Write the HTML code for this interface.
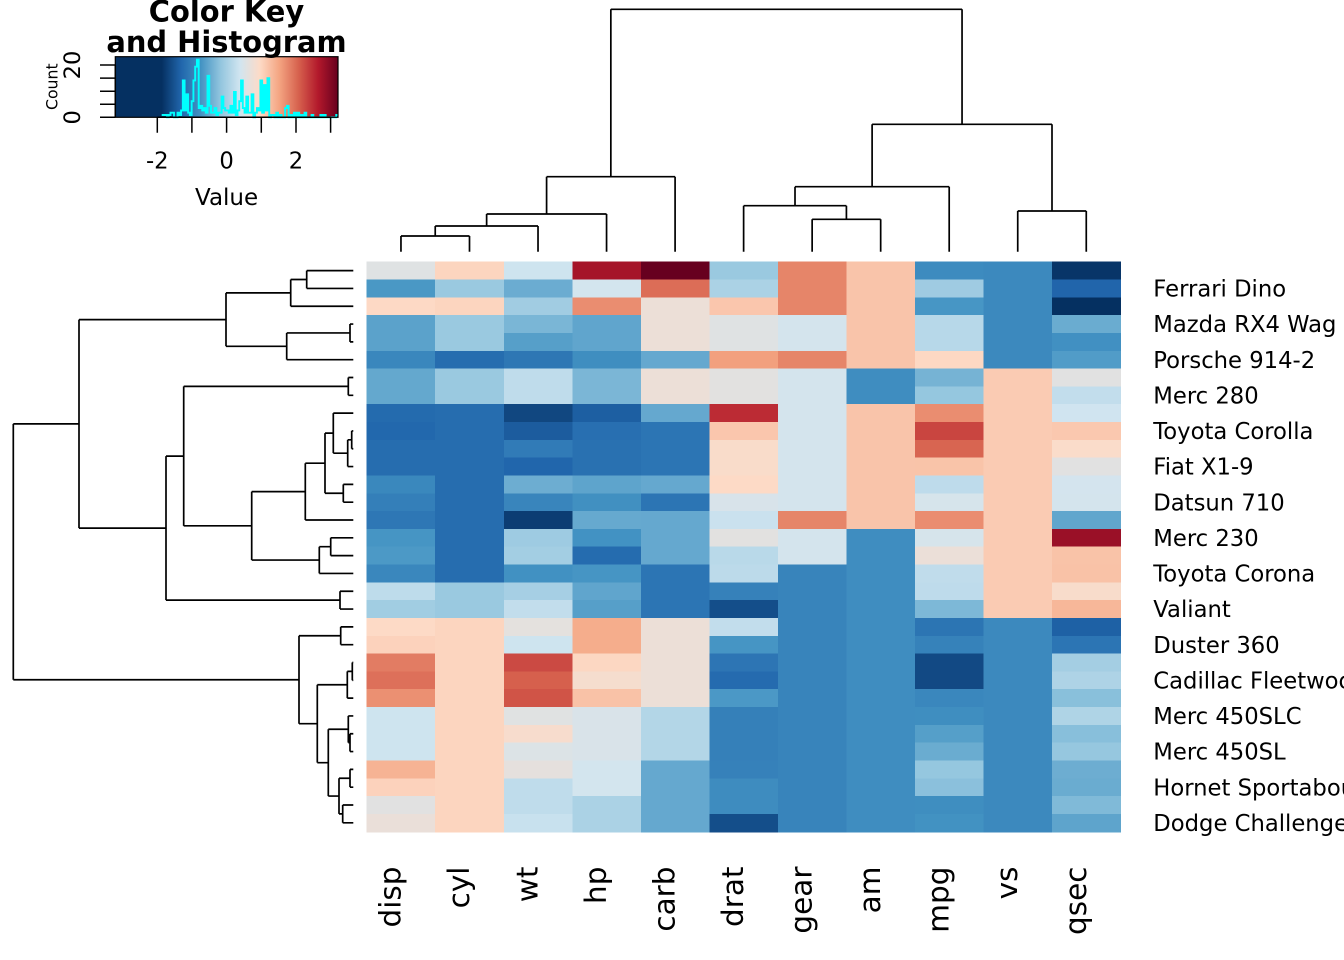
<!DOCTYPE html>
<html><head><meta charset="utf-8">
<style>
html,body{margin:0;padding:0;background:#fff;}
svg{display:block;}
text{font-family:"DejaVu Sans","Liberation Sans",sans-serif;fill:#000;}
</style></head>
<body>
<svg id="s" width="1344" height="960" viewBox="0 0 1344 960" xmlns="http://www.w3.org/2000/svg">
<rect width="1344" height="960" fill="#fff"/>
<defs>
<linearGradient id="kg" x1="0" x2="1" y1="0" y2="0">
<stop offset="0" stop-color="#053061"/>
<stop offset="0.2082" stop-color="#053061"/>
<stop offset="0.2961" stop-color="#2166AC"/>
<stop offset="0.3841" stop-color="#4393C3"/>
<stop offset="0.4721" stop-color="#92C5DE"/>
<stop offset="0.5601" stop-color="#D1E5F0"/>
<stop offset="0.6480" stop-color="#FDDBC7"/>
<stop offset="0.7360" stop-color="#F4A582"/>
<stop offset="0.8240" stop-color="#D6604D"/>
<stop offset="0.9120" stop-color="#B2182B"/>
<stop offset="1" stop-color="#67001F"/>
</linearGradient>
</defs>
<g id="cells" shape-rendering="crispEdges"></g>
<g id="dend" fill="none" stroke="#000" stroke-width="1.7"></g>

<!-- Color key -->
<rect x="115.3" y="56.7" width="222.7" height="60.6" fill="url(#kg)"/>
<path id="hist" fill="none" stroke="#00ffff" stroke-width="1.9"/>
<rect x="115.3" y="56.7" width="222.7" height="60.6" fill="none" stroke="#000" stroke-width="1.2"/>
<g stroke="#000" stroke-width="1.5" fill="none">
<path d="M157.3,117.3V132.7M191.9,117.3V132.7M226.6,117.3V132.7M261.3,117.3V132.7M296,117.3V132.7M330.6,117.3V132.7M157.3,117.3H330.6"/>
<path d="M115.3,65H100M115.3,78.1H100M115.3,91.2H100M115.3,104.2H100M115.3,117.3H100M115.3,65V117.3"/>
</g>
<text x="226.5" y="21.7" font-size="28.9" font-weight="bold" text-anchor="middle">Color Key</text>
<text x="226.5" y="51.9" font-size="28.9" font-weight="bold" text-anchor="middle">and Histogram</text>
<text x="157.3" y="168.5" font-size="22.7" text-anchor="middle">-2</text>
<text x="226.6" y="168.5" font-size="22.7" text-anchor="middle">0</text>
<text x="296" y="168.5" font-size="22.7" text-anchor="middle">2</text>
<text x="226.6" y="205" font-size="23" text-anchor="middle">Value</text>
<text transform="translate(57.5,86.7) rotate(-90)" font-size="15.7" text-anchor="middle">Count</text>
<text transform="translate(80,117.3) rotate(-90)" font-size="22.5" text-anchor="middle">0</text>
<text transform="translate(80,65) rotate(-90)" font-size="22.5" text-anchor="middle">20</text>

<!-- Row labels -->
<g font-size="22.7">
<text x="1153.3" y="296.6">Ferrari Dino</text>
<text x="1153.3" y="332.2">Mazda RX4 Wag</text>
<text x="1153.3" y="367.8">Porsche 914-2</text>
<text x="1153.3" y="403.5">Merc 280</text>
<text x="1153.3" y="439.1">Toyota Corolla</text>
<text x="1153.3" y="474.7">Fiat X1-9</text>
<text x="1153.3" y="510.3">Datsun 710</text>
<text x="1153.3" y="546.0">Merc 230</text>
<text x="1153.3" y="581.6">Toyota Corona</text>
<text x="1153.3" y="617.2">Valiant</text>
<text x="1153.3" y="652.8">Duster 360</text>
<text x="1153.3" y="688.5">Cadillac Fleetwood</text>
<text x="1153.3" y="724.1">Merc 450SLC</text>
<text x="1153.3" y="759.7">Merc 450SL</text>
<text x="1153.3" y="795.3">Hornet Sportabout</text>
<text x="1153.3" y="831.0">Dodge Challenger</text>
</g>

<!-- Column labels -->
<g font-size="29.5" text-anchor="end">
<text transform="translate(400.5,866.5) rotate(-90)">disp</text>
<text transform="translate(469,866.5) rotate(-90)">cyl</text>
<text transform="translate(537.5,866.5) rotate(-90)">wt</text>
<text transform="translate(606,866.5) rotate(-90)">hp</text>
<text transform="translate(674.6,866.5) rotate(-90)">carb</text>
<text transform="translate(743.1,866.5) rotate(-90)">drat</text>
<text transform="translate(811.6,866.5) rotate(-90)">gear</text>
<text transform="translate(880.2,866.5) rotate(-90)">am</text>
<text transform="translate(948.7,866.5) rotate(-90)">mpg</text>
<text transform="translate(1017.2,866.5) rotate(-90)">vs</text>
<text transform="translate(1085.8,866.5) rotate(-90)">qsec</text>
</g>
</svg>
<script>
(function(){
var D={
"Mazda RX4":[21,6,160,110,3.9,2.62,16.46,0,1,4,4],
"Mazda RX4 Wag":[21,6,160,110,3.9,2.875,17.02,0,1,4,4],
"Datsun 710":[22.8,4,108,93,3.85,2.32,18.61,1,1,4,1],
"Hornet 4 Drive":[21.4,6,258,110,3.08,3.215,19.44,1,0,3,1],
"Hornet Sportabout":[18.7,8,360,175,3.15,3.44,17.02,0,0,3,2],
"Valiant":[18.1,6,225,105,2.76,3.46,20.22,1,0,3,1],
"Duster 360":[14.3,8,360,245,3.21,3.57,15.84,0,0,3,4],
"Merc 240D":[24.4,4,146.7,62,3.69,3.19,20,1,0,4,2],
"Merc 230":[22.8,4,140.8,95,3.92,3.15,22.9,1,0,4,2],
"Merc 280":[19.2,6,167.6,123,3.92,3.44,18.3,1,0,4,4],
"Merc 280C":[17.8,6,167.6,123,3.92,3.44,18.9,1,0,4,4],
"Merc 450SE":[16.4,8,275.8,180,3.07,4.07,17.4,0,0,3,3],
"Merc 450SL":[17.3,8,275.8,180,3.07,3.73,17.6,0,0,3,3],
"Merc 450SLC":[15.2,8,275.8,180,3.07,3.78,18,0,0,3,3],
"Cadillac Fleetwood":[10.4,8,472,205,2.93,5.25,17.98,0,0,3,4],
"Lincoln Continental":[10.4,8,460,215,3,5.424,17.82,0,0,3,4],
"Chrysler Imperial":[14.7,8,440,230,3.23,5.345,17.42,0,0,3,4],
"Fiat 128":[32.4,4,78.7,66,4.08,2.2,19.47,1,1,4,1],
"Honda Civic":[30.4,4,75.7,52,4.93,1.615,18.52,1,1,4,2],
"Toyota Corolla":[33.9,4,71.1,65,4.22,1.835,19.9,1,1,4,1],
"Toyota Corona":[21.5,4,120.1,97,3.7,2.465,20.01,1,0,3,1],
"Dodge Challenger":[15.5,8,318,150,2.76,3.52,16.87,0,0,3,2],
"AMC Javelin":[15.2,8,304,150,3.15,3.435,17.3,0,0,3,2],
"Camaro Z28":[13.3,8,350,245,3.73,3.84,15.41,0,0,3,4],
"Pontiac Firebird":[19.2,8,400,175,3.08,3.845,17.05,0,0,3,2],
"Fiat X1-9":[27.3,4,79,66,4.08,1.935,18.9,1,1,4,1],
"Porsche 914-2":[26,4,120.3,91,4.43,2.14,16.7,0,1,5,2],
"Lotus Europa":[30.4,4,95.1,113,3.77,1.513,16.9,1,1,5,2],
"Ford Pantera L":[15.8,8,351,264,4.22,3.17,14.5,0,1,5,4],
"Ferrari Dino":[19.7,6,145,175,3.62,2.77,15.5,0,1,5,6],
"Maserati Bora":[15,8,301,335,3.54,3.57,14.6,0,1,5,8],
"Volvo 142E":[21.4,4,121,109,4.11,2.78,18.6,1,1,4,2]};
var order=["Maserati Bora","Ferrari Dino","Ford Pantera L","Mazda RX4 Wag","Mazda RX4","Porsche 914-2","Merc 280C","Merc 280","Honda Civic","Toyota Corolla","Fiat 128","Fiat X1-9","Volvo 142E","Datsun 710","Lotus Europa","Merc 230","Merc 240D","Toyota Corona","Hornet 4 Drive","Valiant","Camaro Z28","Duster 360","Lincoln Continental","Cadillac Fleetwood","Chrysler Imperial","Merc 450SLC","Merc 450SE","Merc 450SL","Pontiac Firebird","Hornet Sportabout","AMC Javelin","Dodge Challenger"];
var cord=[2,1,5,3,10,4,9,8,0,7,6];
var keys=Object.keys(D), n=keys.length, mean=[], sd=[];
for(var c=0;c<11;c++){var s=0;keys.forEach(function(k){s+=D[k][c];});var m=s/n;var v=0;keys.forEach(function(k){v+=(D[k][c]-m)*(D[k][c]-m);});mean[c]=m;sd[c]=Math.sqrt(v/(n-1));}
var Z=[],mn=1e9,mx=-1e9;
order.forEach(function(k,i){Z[i]=[];cord.forEach(function(c,j){var z=(D[k][c]-mean[c])/sd[c];Z[i][j]=z;if(z<mn)mn=z;if(z>mx)mx=z;});});
var pal=[[5,48,97],[33,102,172],[67,147,195],[146,197,222],[209,229,240],[253,219,199],[244,165,130],[214,96,77],[178,24,43],[103,0,31]];
function col(v){var t=(v-mn)/(mx-mn);if(t<0)t=0;if(t>1)t=1;var p=t*9;var i=Math.min(8,Math.floor(p));var f=p-i;var a=pal[i],b=pal[i+1];
return "rgb("+Math.round(a[0]+f*(b[0]-a[0]))+","+Math.round(a[1]+f*(b[1]-a[1]))+","+Math.round(a[2]+f*(b[2]-a[2]))+")";}
var NS="http://www.w3.org/2000/svg";
var X0=366.7,Y0=261.7,W=68.53,H=570/32;
var g=document.getElementById("cells");
for(var i=0;i<32;i++)for(var j=0;j<11;j++){var r=document.createElementNS(NS,"rect");
r.setAttribute("x",(X0+j*W).toFixed(2));r.setAttribute("y",(Y0+i*H).toFixed(2));
r.setAttribute("width",(W+0.6).toFixed(2));r.setAttribute("height",(H+0.6).toFixed(2));
r.setAttribute("fill",col(Z[i][j]));g.appendChild(r);}
var dp="";
function L(i,rowmode){return {leaf:true,pos:rowmode?(Y0+(i+0.5)*H):(X0+(i+0.5)*W),h:rowmode?353.3:251.7};}
function N(a,b,h){return {a:a,b:b,h:h,pos:(a.pos+b.pos)/2};}
function drawRow(nd){if(nd.leaf)return;
dp+="M"+nd.h+","+nd.a.pos.toFixed(2)+"V"+nd.b.pos.toFixed(2);
dp+="M"+nd.h+","+nd.a.pos.toFixed(2)+"H"+nd.a.h;
dp+="M"+nd.h+","+nd.b.pos.toFixed(2)+"H"+nd.b.h;
drawRow(nd.a);drawRow(nd.b);}
function drawCol(nd){if(nd.leaf)return;
dp+="M"+nd.a.pos.toFixed(2)+","+nd.h+"H"+nd.b.pos.toFixed(2);
dp+="M"+nd.a.pos.toFixed(2)+","+nd.h+"V"+nd.a.h;
dp+="M"+nd.b.pos.toFixed(2)+","+nd.h+"V"+nd.b.h;
drawCol(nd.a);drawCol(nd.b);}
function R(i){return L(i,true);}
var A=N(N(N(R(0),R(1),306.7),R(2),290.7),N(N(R(3),R(4),350),R(5),286.7),226);
var G8=N(N(N(N(R(8),N(N(R(9),R(10),351.7),R(11),347.7),333.3),N(R(12),R(13),343.3),325),R(14),305.3),N(N(R(15),R(16),330.7),R(17),319.3),251.7);
var G6=N(N(N(R(6),R(7),348.3),G8,183.7),N(R(18),R(19),340),166);
var Up=N(A,G6,79);
var Lo=N(N(R(20),R(21),340.7),N(N(N(R(22),R(23),352.3),R(24),347.3),N(N(R(25),N(R(26),R(27),350),348.3),N(N(R(28),R(29),350),N(R(30),R(31),342.7),339),328.3),317.3),299);
drawRow(N(Up,Lo,13.3));
function C(i){return L(i,false);}
var C0=N(N(N(N(C(0),C(1),236),C(2),226),C(3),214),C(4),176.7);
var C1=N(N(N(C(5),N(C(6),C(7),219.3),205.7),C(8),186.7),N(C(9),C(10),211),124.3);
drawCol(N(C0,C1,9.3));
var p=document.createElementNS(NS,"path");p.setAttribute("d",dp);document.getElementById("dend").appendChild(p);
var NB=100,counts=[];for(var k=0;k<NB;k++)counts[k]=0;
for(var i=0;i<32;i++)for(var j=0;j<11;j++){var t=(Z[i][j]-mn)/(mx-mn)*NB;var b=Math.ceil(t)-1;if(b<0)b=0;if(b>NB-1)b=NB-1;counts[b]++;}
var M=Math.max.apply(null,counts);var ma=Math.max(Math.abs(mn),Math.abs(mx));
function hx(k){var v=mn+k*(mx-mn)/NB;return 115.3+(v+ma)/(2*ma)*222.7;}
function hy(c){return 117.3-c/M*0.95*60.6;}
var hp="M"+hx(0).toFixed(2)+","+hy(counts[0]).toFixed(2);
for(var k=1;k<=NB;k++){hp+="H"+hx(k).toFixed(2);var c=k<NB?counts[k]:counts[NB-1];hp+="V"+hy(c).toFixed(2);}
document.getElementById("hist").setAttribute("d",hp);
})();
</script>
</body></html>
